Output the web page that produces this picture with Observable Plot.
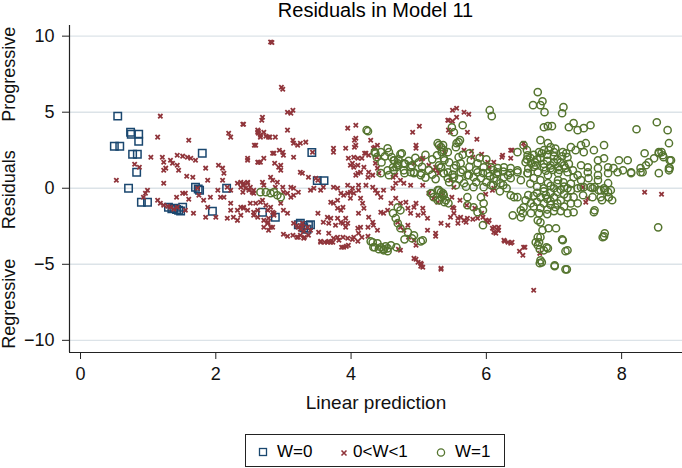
<!DOCTYPE html>
<html><head><meta charset="utf-8">
<script src="https://cdn.jsdelivr.net/npm/d3@7"></script>
<script src="https://cdn.jsdelivr.net/npm/@observablehq/plot@0.6"></script>
<style>
body{margin:0;background:#fff;font-family:"Liberation Sans",Arial,Helvetica,sans-serif;}
#wrap{position:relative;width:682px;height:468px;overflow:hidden;background:#fff;}
#title{position:absolute;left:69px;width:613px;top:-2px;text-align:center;font-size:20px;line-height:24px;color:#000;white-space:nowrap;}
#chart{position:absolute;left:0;top:0;}
#legend{position:absolute;left:245px;top:434px;width:258px;height:31px;border:1.5px solid #222;font-size:17px;color:#000;}
#legend span{position:absolute;top:0;line-height:33px;white-space:nowrap;}
#legend svg{position:absolute;left:0;top:0;}
</style></head>
<body><div id="wrap"><div id="chart"></div><div id="title">Residuals in Model 11</div>
<div id="legend"></div></div>
<script>
const xTicks = [0, 2, 4, 6, 8];
const yTicks = [-10, -5, 0, 5, 10];
const sideLabels = ["Progressive", "Residuals", "Regressive"];
const sideLabelY = [7.5, -0.1, -7.6];
const seriesNames = ["W=0", "0<W<1", "W=1"];
const seriesColors = ["#1a476f", "#90353b", "#55752f"];

// W=0 : [linear prediction, residual]
const w0 = [
[0.55,4.74],[0.50,2.76],[0.58,2.76],[0.74,3.68],[0.75,3.55],[0.86,3.55],[0.86,3.09],[0.77,2.24],[0.84,2.24],[0.83,1.05],[0.71,0],[0.90,-0.92],[0.99,-0.92],[1.30,-1.25],[1.38,-1.32],[1.45,-1.45],[1.51,-1.25],[1.42,-1.40],[1.48,-1.50],[1.35,-1.35],[1.70,0.07],[1.76,-0.13],[1.74,-0.05],[1.80,2.30],[1.95,-1.51],[2.16,0],[2.69,-1.58],[2.88,-1.91],[3.42,2.35],[3.50,0.50],[3.60,0.50],[3.22,-2.40],[3.37,-2.45],[3.25,-2.30],[3.40,-2.40],[3.30,-2.60],[3.35,-2.70]
];

// 0<W<1
const mid = [
[1.18,4.74],[1.14,3.36],[1.60,3.16],[1.04,2.04],[1.21,2.04],[1.23,1.71],[1.33,1.84],[1.36,1.64],[1.26,1.32],[1.23,1.18],
[1.43,2.17],[1.51,2.11],[1.58,2.04],[1.63,1.97],[1.70,1.84],[1.43,1.51],[1.45,1.18],[0.80,1.58],[0.87,1.38],[0.53,0.53],
[0.99,-0.13],[0.96,-0.33],[0.93,-0.59],[1.14,-0.79],[1.18,-0.99],[1.23,-1.12],[1.29,-1.18],[1.33,-1.25],[1.38,-1.38],[1.43,-1.25],
[1.23,0.33],[1.42,-0.59],[1.51,-0.33],[1.55,-0.33],[1.57,0.79],[1.66,0.72],[1.60,-0.72],[1.55,-1.45],[1.67,-1.64],[1.73,0],
[1.75,-0.46],[1.85,1.32],[1.88,0.53],[1.82,-0.79],[1.88,-1.25],[1.85,-1.91],[2.00,-1.91],[2.03,-0.13],[1.92,-0.59],[2.07,-0.59],
[2.04,1.51],[2.10,1.32],[2.12,0.99],[2.10,0.53],[2.12,-0.59],[2.22,-0.99],[2.32,-1.45],[2.37,-1.78],[2.19,3.62],[2.22,3.36],
[2.40,4.21],[2.17,0.07],[2.22,-0.13],[2.32,0.33],[2.37,0.07],[2.41,0.33],[2.47,0.39],[2.51,0.07],[2.56,-0.13],[2.47,1.84],
[2.59,2.83],[2.62,3.68],[2.63,3.62],[2.66,3.36],[2.69,4.67],[2.68,4.47],[2.71,1.97],[2.66,1.71],[2.84,2.30],[2.87,1.64],
[2.88,3.36],[2.80,3.36],[2.22,-1.45],[2.26,-1.91],[2.17,-1.97],[2.32,-2.11],[2.51,-0.99],[2.56,-1.58],[2.62,-1.91],[2.71,-2.11],
[2.77,-2.30],[2.69,-0.79],[2.77,-1.45],[2.81,-1.25],[2.86,-1.64],[2.81,-2.57],[2.78,-2.76],[2.41,-1.25],
[2.81,9.61],[2.83,9.58],[2.97,6.64],[2.99,6.51],[3.06,5.00],[3.11,4.93],[3.14,5.13],[2.41,4.21],[2.62,3.82],[2.63,3.75],
[2.71,3.68],[2.74,3.42],[2.66,3.49],[2.78,3.36],[2.57,2.83],[3.06,3.82],[3.14,3.16],[3.15,2.96],[3.21,2.83],[3.25,2.96],
[3.33,3.03],[2.94,2.50],[2.99,2.37],[3.00,2.17],[2.86,2.30],[2.47,1.97],[2.63,1.71],[3.15,2.04],[3.43,2.37],[3.74,2.63],
[3.74,2.37],[3.95,3.95],[4.07,4.14],[4.07,3.29],[4.07,2.83],[3.99,1.51],[4.04,2.04],[4.10,1.97],[4.29,3.16],[4.39,2.83],
[4.33,2.63],[4.22,2.30],[4.26,2.17],[4.91,3.68],[5.01,4.08],[4.96,2.83],[4.96,2.63],[5.06,1.97],[4.93,1.64],[5.15,1.51],
[5.25,1.38],[2.96,1.51],[5.43,4.47],[5.44,3.82],
[2.62,1.71],[2.93,1.38],[2.96,1.18],[2.37,0.39],[2.41,0.20],[2.47,0.33],[2.49,-0.13],[2.54,-0.26],[2.56,-0.33],[2.44,0],
[2.40,-0.26],[2.69,0.39],[2.71,0.20],[2.81,0.72],[2.84,0.53],[2.91,0.39],[2.88,0.07],[2.99,0.07],[3.00,-0.26],[3.06,-0.33],
[3.11,-0.59],[3.15,-0.46],[3.11,0.07],[3.15,0],[3.22,-0.26],[2.59,-0.99],[2.66,-0.92],[2.74,-1.12],[2.62,-1.45],[2.56,-1.78],
[2.37,-1.25],[2.41,-1.32],[2.47,-1.45],[2.84,-1.58],[2.86,-1.78],[2.78,-1.97],[2.77,-2.24],[2.96,-0.99],[3.00,-1.45],[3.06,-1.64],
[2.71,-2.57],[2.84,-2.57],[3.00,-3.03],[3.14,-3.09],[3.22,-3.22],[3.30,-3.29],[3.37,-3.09],[3.15,-2.30],[3.28,-2.30],[3.36,-2.57],
[3.40,-2.76],[3.22,-2.57],[3.25,-2.70],[3.30,-2.83],[3.20,-2.45],[3.28,-2.50],[3.25,1.05],[3.28,0.99],[3.37,0.72],[3.48,0.66],
[3.51,0.53],[3.40,-0.13],[3.45,0],[3.55,-0.13],[3.59,0.07],[3.74,0.07],[3.80,0],[3.51,-1.64],[3.65,-1.91],[3.70,-1.97],
[3.67,-2.30],[3.59,-2.24],[3.52,-2.89],[3.67,-2.96],[3.55,-3.55],[3.65,-3.55],[3.73,-3.55],[3.85,-0.33],[3.89,-0.46],[3.95,-0.33],
[3.99,-0.66],[3.80,-0.79],[3.70,-0.92],[3.74,-0.99],[3.80,-1.32],[3.85,-1.45],[3.88,-1.25],[3.80,-1.97],[3.85,-2.24],[3.88,-2.30],
[3.77,-2.43],[3.92,-2.57],[3.92,-1.97],[3.95,-2.30],[3.74,-3.29],[3.82,-3.42],[3.88,-3.22],[3.89,-3.88],[3.96,-3.75],[3.95,-3.29],
[4.04,-3.22],[4.11,-2.96],[4.10,-2.63],[4.14,-2.57],[4.02,1.64],[4.04,1.38],[4.10,1.51],[4.07,0.86],[4.10,0.99],[4.14,1.05],
[3.95,0.20],[4.02,0],[4.11,0.20],[4.11,-0.13],[3.99,-0.26],[4.04,-0.33],[4.14,-0.66],[4.17,-0.99],[4.19,-1.32],[4.11,-1.64],
[4.26,-1.91],[4.32,-2.24],[4.33,-2.43],[4.39,-2.76],[4.25,-2.57],[4.22,0.20],[4.32,0.07],[4.36,-0.13],[4.39,-0.33],[4.44,-0.59],
[4.36,1.64],[4.39,1.32],[4.41,0.99],[4.25,0.72],[4.32,0.86],[4.48,-0.13],[4.62,0],[4.66,0.33],[4.73,0.53],[4.66,-0.66],
[4.59,-0.99],[4.54,-1.45],[4.44,-1.58],[4.48,-1.64],[4.73,-0.99],[4.81,-0.92],[4.84,-1.32],[4.88,-1.64],[4.93,-1.25],[4.96,-0.99],
[4.99,-1.78],[5.06,-1.32],[5.07,-1.64],[5.13,-1.97],[4.69,-2.24],[4.73,-2.57],[4.78,-2.76],[4.84,-2.43],[4.93,-3.42],[4.96,-3.75],
[4.93,-4.61],[4.99,-4.87],[5.03,-4.93],[5.06,-5.20],[5.33,-5.26],[4.85,-3.22],[4.73,-4.08],[5.13,-2.76],[5.25,-2.96],[5.15,-0.33],
[5.22,-0.66],[5.28,-0.92],[4.62,0.72],[4.66,0.86],[4.78,0.33],[4.88,0.20],[5.06,0.20],[5.28,1.18],
[5.50,5.13],[5.56,5.26],[5.67,5.00],[5.74,4.87],[5.44,4.47],[5.50,4.41],[5.56,4.67],[5.47,3.68],[5.72,3.68],[5.86,3.22],
[5.67,2.50],[5.78,2.43],[5.80,2.04],[5.93,2.24],[6.02,1.71],[6.11,1.71],[6.24,2.17],[6.36,2.50],[6.36,1.97],[6.55,2.96],
[5.47,0.53],[5.52,0.07],[5.99,-0.39],[6.11,0],[7.43,0.07],[8.34,-0.26],[8.59,-0.39],
[5.33,-2.30],[5.43,-2.43],[5.52,-1.64],[5.47,-1.91],[5.58,-1.97],[5.62,-1.91],[5.67,-2.11],[5.72,-1.97],[5.80,-2.04],[5.87,-1.97],
[5.95,-1.91],[5.99,-2.11],[6.02,-2.24],[5.58,-2.30],[5.70,-2.24],[5.50,-1.25],[5.52,-1.32],[6.09,-2.63],[6.11,-2.89],[6.17,-2.76],
[6.18,-2.57],[6.14,-2.96],[6.26,-3.42],[6.32,-3.55],[6.36,-3.62],[6.49,-4.14],[6.55,-3.88],[6.54,-4.41],[6.79,-4.28],[6.70,-6.71],
[5.33,-5.33],[7.47,-0.92],[7.50,-0.66],[6.09,-0.13],
[3.06,-3.16],[3.20,-3.22],[3.31,-3.22],[3.25,-3.09],[3.55,-3.49],[3.61,-3.55],[3.67,-3.49],[3.70,-3.55],[3.80,-3.22],[3.86,-3.88],
[3.93,-3.82],[4.02,-3.36],[4.10,-3.49],[4.16,-3.22],[4.25,-3.16],[4.70,-4.01],[4.96,-4.67],[5.04,-5.00],[5.03,-5.13],[6.27,-3.49],
[6.38,-3.55],[6.57,-3.88],[5.25,-3.16],
[4.05,3.16],[4.05,2.70],[4.20,2.30],[4.35,2.70],[4.38,2.04],[5.04,1.91],[5.30,2.70],[5.38,2.37],[6.04,1.38],[6.23,2.04],
[6.38,2.50],[6.57,2.70],[5.22,1.18],[5.30,0.99],[5.34,-0.33],[5.49,-0.59],[5.61,-0.79],[5.71,-1.12],[5.83,-1.32],[5.93,-1.64],
[6.04,-2.11],[6.12,-2.57],[6.18,-2.76],[3.92,2.63],[3.96,1.97],[4.16,1.97],[4.19,1.38],[4.26,1.05]
];

// W=1
const w1 = [
[4.25,3.75],[4.35,2.37],[4.38,2.04],[4.56,2.37],[4.60,2.04],[4.64,1.84],[4.75,2.30],[4.67,1.38],[4.63,1.18],[4.56,0.86],
[4.79,0.99],[4.93,1.05],[5.04,0.99],[5.30,2.83],[5.34,2.37],[5.27,2.17],[5.38,1.84],[5.59,2.04],[5.56,2.96],[5.61,3.16],
[5.49,4.01],[5.52,3.68],[5.65,4.14],[6.05,5.13],[6.08,4.74],[5.19,-0.33],[5.30,-0.13],[5.34,-0.59],[5.38,-0.92],[5.31,-0.79],
[5.44,-0.99],
[6.76,6.32],[6.69,5.46],[6.83,5.72],[6.80,5.46],[6.86,5.00],[7.12,4.93],[7.14,5.33],[6.85,4.01],[6.91,4.08],[6.97,4.08],
[7.22,4.01],[7.29,4.28],[7.35,3.82],[7.44,3.95],[7.54,4.14],[8.22,3.88],[8.52,4.34],[8.68,3.82],[8.70,2.96],
[5.59,3.03],[5.55,2.70],[5.36,2.83],[5.43,2.37],[5.37,1.97],[5.33,1.38],
[6.80,3.16],[6.91,2.96],[6.95,2.70],[6.85,2.50],[6.78,2.37],[7.00,2.37],[7.13,2.37],[7.20,2.04],[7.32,2.50],[7.40,2.83],
[7.47,2.96],[7.44,2.37],[7.59,2.50],[7.74,2.83],[7.65,1.84],[7.74,1.97],[6.55,2.83],[6.46,2.37],[6.61,2.17],[6.58,1.71],
[6.66,1.64],[6.73,1.51],[6.46,1.18],[6.61,0.99],[6.70,0.66],[6.51,0.53],
[6.85,1.38],[6.95,1.32],[7.06,1.38],[7.17,1.32],[7.28,1.18],[7.40,1.51],[7.50,1.38],[7.65,1.32],[7.80,1.38],[7.88,1.32],
[7.96,1.84],[8.09,1.84],[8.02,1.18],[8.14,1.05],[8.28,1.32],[8.36,1.51],[8.31,1.05],[8.40,1.71],[8.48,1.97],[8.55,2.37],
[8.61,2.17],[8.73,1.84],[8.70,1.32],[8.55,0.99],
[6.80,0.53],[6.91,0.33],[7.06,0.53],[7.14,0.39],[7.29,0.72],[7.40,0.53],[7.51,0.66],[7.65,0.53],[7.80,0.33],[7.84,-0.13],
[7.69,-0.13],[7.54,0.07],[7.40,0.07],[7.20,0],[7.00,0],
[5.77,1.84],[5.87,1.64],[5.96,1.38],[6.07,1.38],[6.17,1.32],[6.26,1.38],[6.36,1.32],[5.62,1.64],[5.52,1.32],[5.43,1.05],
[5.72,0.86],[5.81,0.72],[5.92,0.66],[6.11,0.66],[6.26,0.72],[6.36,0.66],[5.67,0.33],[5.81,0.07],[5.96,0.07],[6.07,0.20],
[6.21,0.33],[5.72,-0.59],[5.92,-0.59],[6.36,-0.46],[6.46,-0.59],
[5.37,0.99],[5.52,0.72],[5.62,1.05],[5.74,0.86],[5.87,1.05],[6.02,0.99],[6.17,1.05],[6.32,0.86],[6.46,1.05],[6.61,0.99],
[6.76,1.05],[6.91,0.86],[7.06,0.99],[7.20,1.05],[7.35,0.86],[7.50,1.05],[7.65,0.86],[7.80,0.99],[7.94,1.05],[8.14,0.99],
[8.28,1.05],[8.70,1.18],
[6.41,-0.59],[5.36,-0.33],[5.40,-0.79],[5.72,-1.12],[5.81,-1.25],[5.96,-0.99],[5.87,-1.58],[5.95,-1.45],[6.39,-1.78],[6.51,-1.91],
[6.54,-1.64],[6.66,-1.64],[6.76,-2.11],[6.80,-2.24],[6.83,-2.76],[6.80,-3.22],[6.78,-3.55],[6.76,-3.75],[6.92,-2.63],[7.03,-2.63],
[6.91,-3.95],[6.85,-4.08],[6.80,-4.74],[6.79,-4.93],[7.01,-5.07],[7.19,-5.33],[7.13,-3.42],[7.20,-4.08],[7.74,-3.16],[7.59,-1.58],
[8.54,-2.57],[5.95,-2.43],
[7.25,-0.13],[7.35,0],[7.44,0.07],[7.57,0],[7.66,-0.13],[7.74,0],[7.80,-0.26],[7.81,-0.59],[7.69,-0.59],[7.57,-0.59],
[7.43,-0.46],[7.29,-0.59],[7.35,-0.99],[7.29,-1.58],[7.20,-1.64],[6.66,-0.99],[6.55,-1.25],[6.51,-1.45],[6.58,-0.79],
[6.75,-0.30],[6.85,-0.20],[6.95,-0.30],[7.05,-0.25],[7.15,-0.40],[6.80,-0.60],[6.90,-0.70],[7.00,-0.60],[7.10,-0.80],[6.75,-0.90],
[6.85,-1.00],[6.95,-1.10],[7.05,-1.00],[7.15,-1.20],[6.80,-1.30],[6.90,-1.40],[7.00,-1.50],[6.70,-1.20],[7.20,-0.60],[6.95,-0.85],
[6.88,-0.45],[7.02,-1.25],
[6.80,2.00],[6.90,1.80],[7.00,2.10],[7.10,1.70],[6.75,1.90],[6.85,1.60],[6.95,1.50],[7.05,1.90],[7.15,1.50],[6.70,2.20],
[7.00,1.70],[6.90,2.20],[6.60,2.50],[6.65,2.00],
[5.45,1.70],[5.55,1.50],[5.65,1.20],[5.75,1.40],[5.85,1.20],[5.95,1.00],[6.05,0.80],[6.15,0.50],[6.25,0.20],[5.50,0.90],
[5.60,0.60],[5.30,1.50],[5.20,1.90],[5.10,2.20],[5.00,1.70],[4.90,1.50],[4.80,1.60],[5.15,1.20],[5.25,0.60],[6.30,0.00],
[6.20,-0.20],[6.10,0.20],
[4.29,-3.49],[4.35,-3.88],[4.41,-4.01],[4.48,-4.01],[4.54,-4.14],[4.51,-3.82],[4.67,-3.88],[4.79,-3.36],[4.90,-3.29],[5.03,-3.49],
[6.79,-4.01],[6.82,-4.87],[7.01,-5.13],[7.17,-5.33],[6.89,-3.88],[7.17,-4.14],[7.72,-3.22],[7.12,-3.36],[6.73,-3.55],[6.76,-3.22],
[2.74,-0.26],[2.81,-0.33],[2.86,-0.26],[2.91,-0.46],[2.96,-0.59],[2.66,-0.26],
[4.32,-3.55],[4.39,-3.62],[4.44,-3.88],[4.48,-4.08],[4.54,-3.95],[4.33,-3.88],[4.59,-3.75],
[4.44,0.99],[4.54,1.18],[4.62,1.38],[4.69,1.51],[4.78,1.18],[4.88,1.05],[4.93,0.99],[5.03,0.86],
[4.62,-1.64],[4.66,-1.97],[4.69,-2.30],[4.73,-2.63],[4.84,-2.89],[4.93,-3.09],[5.06,-3.42],[4.69,-1.25],[4.73,-1.45],
[5.18,-0.33],[5.22,-0.59],[5.28,-0.13],[5.33,-0.26],[5.37,-0.46],[5.28,-0.79],[5.33,1.38],[5.37,0.99],[5.43,0.66],
[4.23,3.82],[5.28,2.96],[5.33,2.70],[5.37,2.50],[4.73,2.24],[4.36,2.30],[4.44,2.37],[4.54,2.63],[4.63,1.84],[4.69,1.64],
[4.78,1.64],[4.88,1.38],
[8.55,2.30],[8.59,2.37],[8.62,2.04],[8.71,1.84],[8.71,1.32],[8.34,2.30],[7.75,-2.96],
[7.60,0.07],[7.75,-0.13],[7.81,-0.59],[7.86,-0.79],[7.71,-0.79],[7.60,-1.45],
[6.62,1.30],[6.72,1.70],[6.82,2.30],[6.92,2.50],[7.02,2.60],[7.12,2.10],[7.22,1.60],[6.98,1.20],[7.08,1.20],[6.88,1.15],
[6.70,1.40],[7.18,2.30],[7.25,2.70],[6.60,1.90],
[6.65,0.30],[6.75,0.10],[6.85,0.00],[6.95,0.15],[7.05,0.30],[7.15,0.10],[7.25,0.30],[6.70,-0.50],[7.10,-0.10],[7.25,-1.00],
[6.62,-0.45],[6.90,-1.70],[7.10,-1.50],[6.78,-1.65],
[4.45,1.70],[4.50,2.10],[4.70,1.90],[4.85,1.80],[4.95,2.00],[5.05,1.40],[5.10,0.70],[5.20,0.90],[5.45,0.40],[5.55,0.20],
[5.70,0.10],[5.85,0.40],[6.00,0.40],[6.15,0.95],[6.25,1.10],[6.35,1.00],[5.65,2.20],[5.75,2.30],[5.90,2.00],[6.00,1.90],
[6.10,1.20]
];

const xDomain = [-0.163, 8.9];
const yDomain = [-10.8, 10.7];

const toRows = (arr, g) => arr.map(([x, y]) => ({x, y, g}));
const rows0 = toRows(w0, seriesNames[0]);
const rows1 = toRows(mid, seriesNames[1]);
const rows2 = toRows(w1, seriesNames[2]);
const labels = sideLabels.map((t, i) => ({t, y: sideLabelY[i]}));

const font = '"Liberation Sans", Arial, Helvetica, sans-serif';
const chart = Plot.plot({
  width: 682, height: 425,
  marginLeft: 69, marginRight: 0, marginTop: 25, marginBottom: 73,
  style: {fontFamily: font, fontSize: "18px", color: "#111", background: "transparent"},
  x: {domain: xDomain},
  y: {domain: yDomain},
  marks: [
    Plot.ruleY(yTicks, {stroke: "#dce3e8", strokeWidth: 1.4}),
    Plot.ruleY([yDomain[0]], {stroke: "#222", strokeWidth: 1.2}),
    Plot.ruleX([xDomain[0]], {stroke: "#222", strokeWidth: 1.2}),
    Plot.axisX({ticks: xTicks, tickSize: 7, tickPadding: 8, fontSize: 18, label: null, stroke: "#222"}),
    Plot.axisY({ticks: yTicks, tickSize: 7, tickPadding: 8, fontSize: 18, label: null, stroke: "#222"}),
    Plot.text(labels, {y: "y", text: "t", frameAnchor: "left", textAnchor: "middle", dx: -60, rotate: -90, fontSize: 18, fill: "#111"}),
    Plot.text(["Linear prediction"], {frameAnchor: "bottom", dy: 56, fontSize: 19, fill: "#111"}),
    Plot.dot(rows0, {x: "x", y: "y", symbol: "square", r: 4.2, stroke: seriesColors[0], strokeWidth: 1.5, fill: "none"}),
    Plot.dot(rows1, {x: "x", y: "y", symbol: "times", r: 2.1, stroke: seriesColors[1], strokeWidth: 1.8, fill: "none"}),
    Plot.dot(rows2, {x: "x", y: "y", r: 3.6, stroke: seriesColors[2], strokeWidth: 1.5, fill: "none"})
  ]
});
document.getElementById("chart").appendChild(chart);

// legend
const lg = d3.select("#legend");
const svg = lg.append("svg").attr("width", 258).attr("height", 31);
svg.append("rect").attr("x", 13.5).attr("y", 13.5).attr("width", 7).attr("height", 7)
  .attr("fill", "none").attr("stroke", seriesColors[0]).attr("stroke-width", 1.3);
svg.append("path").attr("d", "M95.5,15.5L100.5,20.5M100.5,15.5L95.5,20.5")
  .attr("stroke", seriesColors[1]).attr("stroke-width", 1.6);
svg.append("circle").attr("cx", 195).attr("cy", 17.5).attr("r", 3.6)
  .attr("fill", "none").attr("stroke", seriesColors[2]).attr("stroke-width", 1.3);
const textLeft = [31, 107, 209];
seriesNames.forEach((n, i) => lg.append("span").style("left", textLeft[i] + "px").text(n));
</script>
</body></html>
